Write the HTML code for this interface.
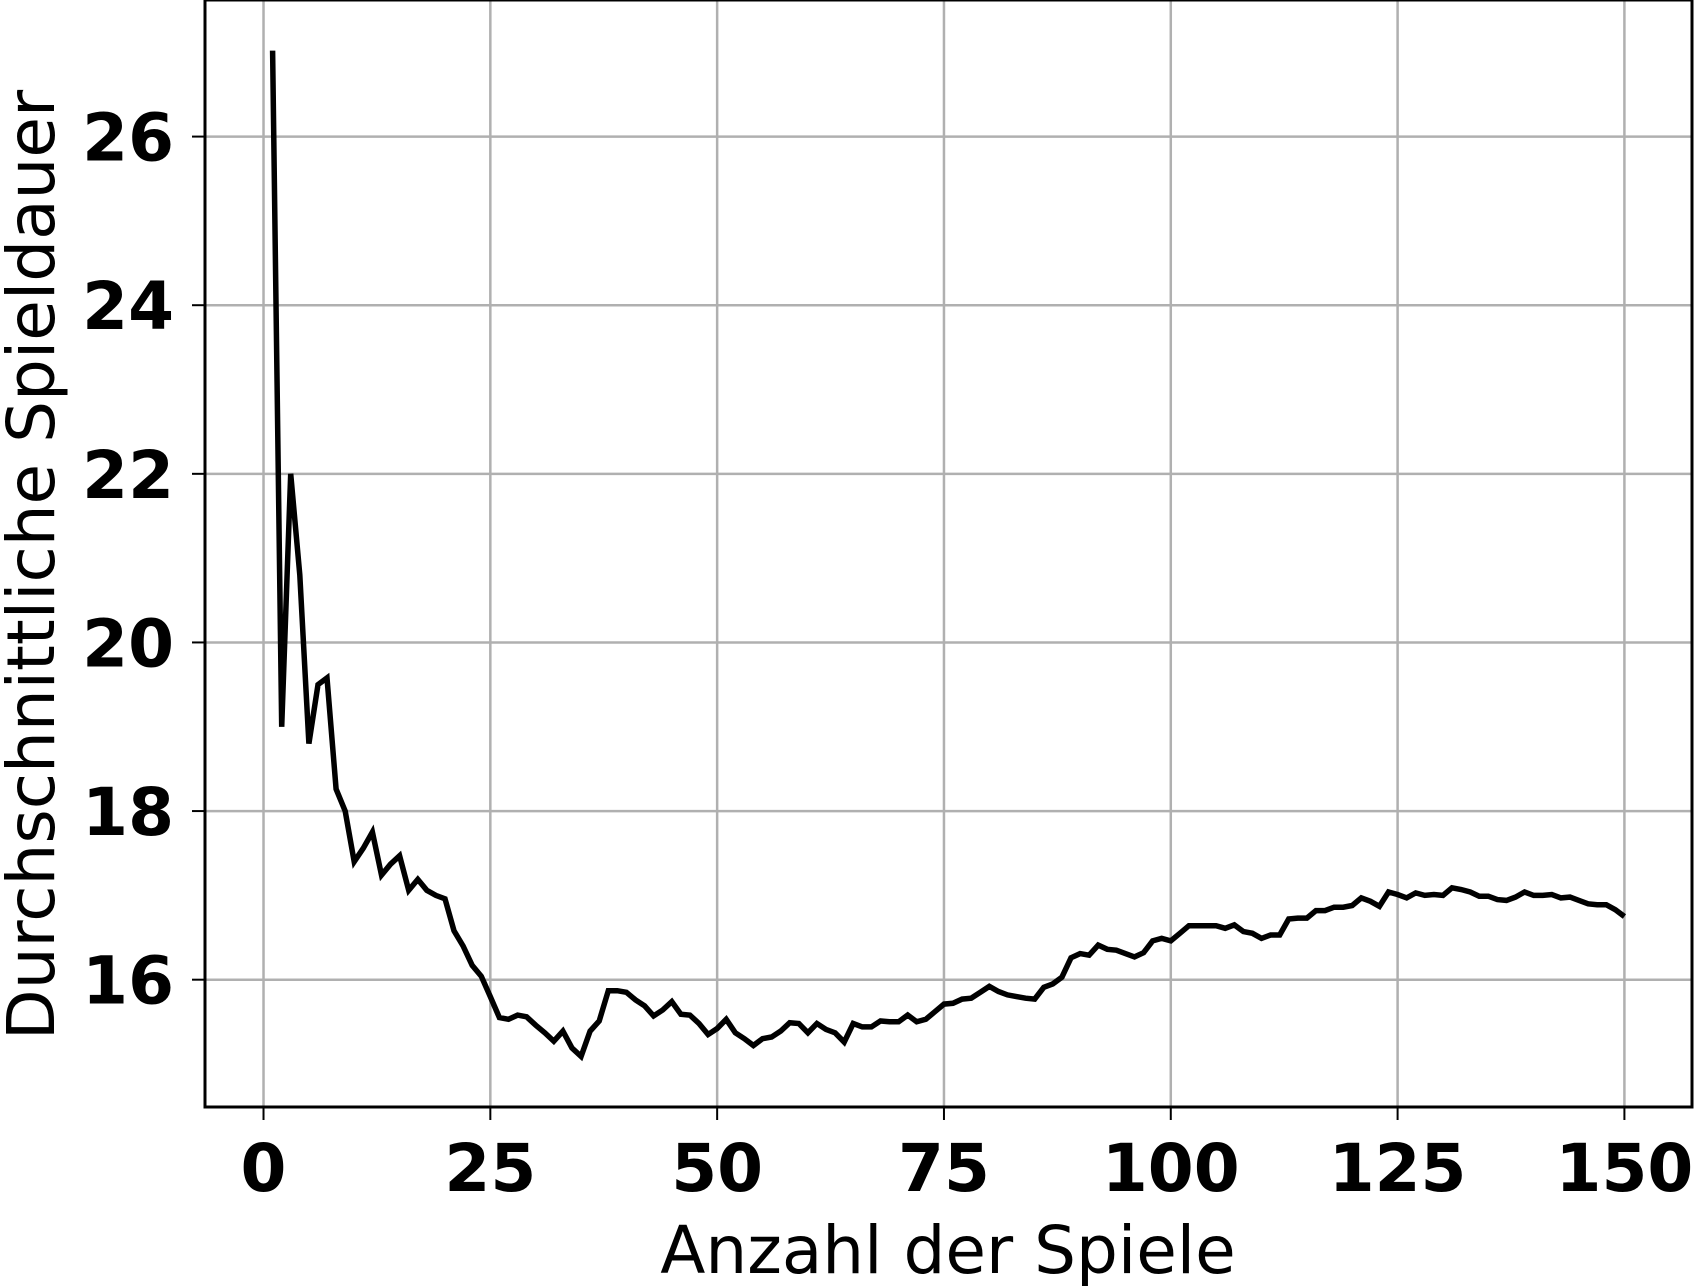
<!DOCTYPE html>
<html><head><meta charset="utf-8"><style>
html,body{margin:0;padding:0;background:#fff;}
svg{display:block;font-family:"DejaVu Sans","Liberation Sans",sans-serif;}
</style></head><body>
<svg id="chart" width="1694" height="1286" viewBox="0 0 1694 1286" xmlns="http://www.w3.org/2000/svg">
<g id="grid"></g>
<g id="series"></g>
<g id="axes"></g>
<text x="948" y="1273" font-size="66" text-anchor="middle" fill="#000">Anzahl der Spiele</text>
<text transform="translate(54,565) rotate(-90)" font-size="66" text-anchor="middle" fill="#000">Durchschnittliche Spieldauer</text>
</svg>
<script>
const yValues=[27.02,19.0,22.0,20.8,18.8,19.5,19.58,18.26,18.0,17.4,17.56,17.75,17.24,17.37,17.47,17.06,17.19,17.06,17.0,16.96,16.58,16.4,16.17,16.04,15.8,15.55,15.53,15.58,15.56,15.46,15.37,15.27,15.39,15.19,15.09,15.39,15.51,15.87,15.87,15.85,15.76,15.69,15.57,15.64,15.74,15.59,15.58,15.48,15.35,15.42,15.53,15.37,15.3,15.22,15.3,15.32,15.39,15.49,15.48,15.37,15.48,15.41,15.37,15.26,15.48,15.44,15.44,15.51,15.5,15.5,15.58,15.5,15.53,15.62,15.71,15.72,15.77,15.78,15.85,15.92,15.86,15.82,15.8,15.78,15.77,15.91,15.95,16.03,16.26,16.31,16.29,16.41,16.36,16.35,16.31,16.27,16.32,16.46,16.49,16.46,16.55,16.64,16.64,16.64,16.64,16.61,16.65,16.57,16.55,16.49,16.53,16.53,16.72,16.73,16.73,16.82,16.82,16.86,16.86,16.88,16.97,16.93,16.87,17.04,17.01,16.97,17.03,17.0,17.01,17.0,17.09,17.07,17.04,16.99,16.99,16.95,16.94,16.98,17.04,17.0,17.0,17.01,16.97,16.98,16.94,16.9,16.89,16.89,16.83,16.75];
const xTicks=[0,25,50,75,100,125,150];
const yTicks=[16,18,20,22,24,26];
const NS="http://www.w3.org/2000/svg";
const L=205,R=1692,T=0,B=1107;
const xMin=-6.45,xMax=157.45,yMin=14.49,yMax=27.62;
const sx=v=>L+(v-xMin)/(xMax-xMin)*(R-L);
const sy=v=>B-(v-yMin)/(yMax-yMin)*(B-T);
function mk(tag,attrs,parent){const e=document.createElementNS(NS,tag);for(const k in attrs)e.setAttribute(k,attrs[k]);parent.appendChild(e);return e;}
const grid=document.getElementById('grid'),axes=document.getElementById('axes'),series=document.getElementById('series');
xTicks.forEach(t=>{
  const g=mk('line',{x1:sx(t),x2:sx(t),y1:T,y2:B,stroke:'#b0b0b0','stroke-width':2.5},grid);
  
  
  const tk=mk('line',{x1:sx(t),x2:sx(t),y1:B,y2:B+13,stroke:'#000','stroke-width':2},axes);
  
  
  const tx=mk('text',{x:sx(t),y:1191,'font-size':66,'font-weight':'bold','text-anchor':'middle',fill:'#000'},axes);
  tx.textContent=t;
  
  
});
yTicks.forEach(t=>{
  const g=mk('line',{x1:L,x2:R,y1:sy(t),y2:sy(t),stroke:'#b0b0b0','stroke-width':2.5},grid);
  
  
  const tk=mk('line',{x1:L-13,x2:L,y1:sy(t),y2:sy(t),stroke:'#000','stroke-width':2},axes);
  
  
  const tx=mk('text',{x:174,y:sy(t)+24,'font-size':66,'font-weight':'bold','text-anchor':'end',fill:'#000'},axes);
  tx.textContent=t;
  
  
});
const frame=mk('rect',{x:L,y:T,width:R-L,height:B-T,fill:'none',stroke:'#000','stroke-width':3},axes);


const pts=yValues.map((v,i)=>sx(i+1).toFixed(1)+','+sy(v).toFixed(1)).join(' ');
const line=mk('polyline',{points:pts,fill:'none',stroke:'#000','stroke-width':5.5,'stroke-linejoin':'miter'},series);


</script>
</body></html>
